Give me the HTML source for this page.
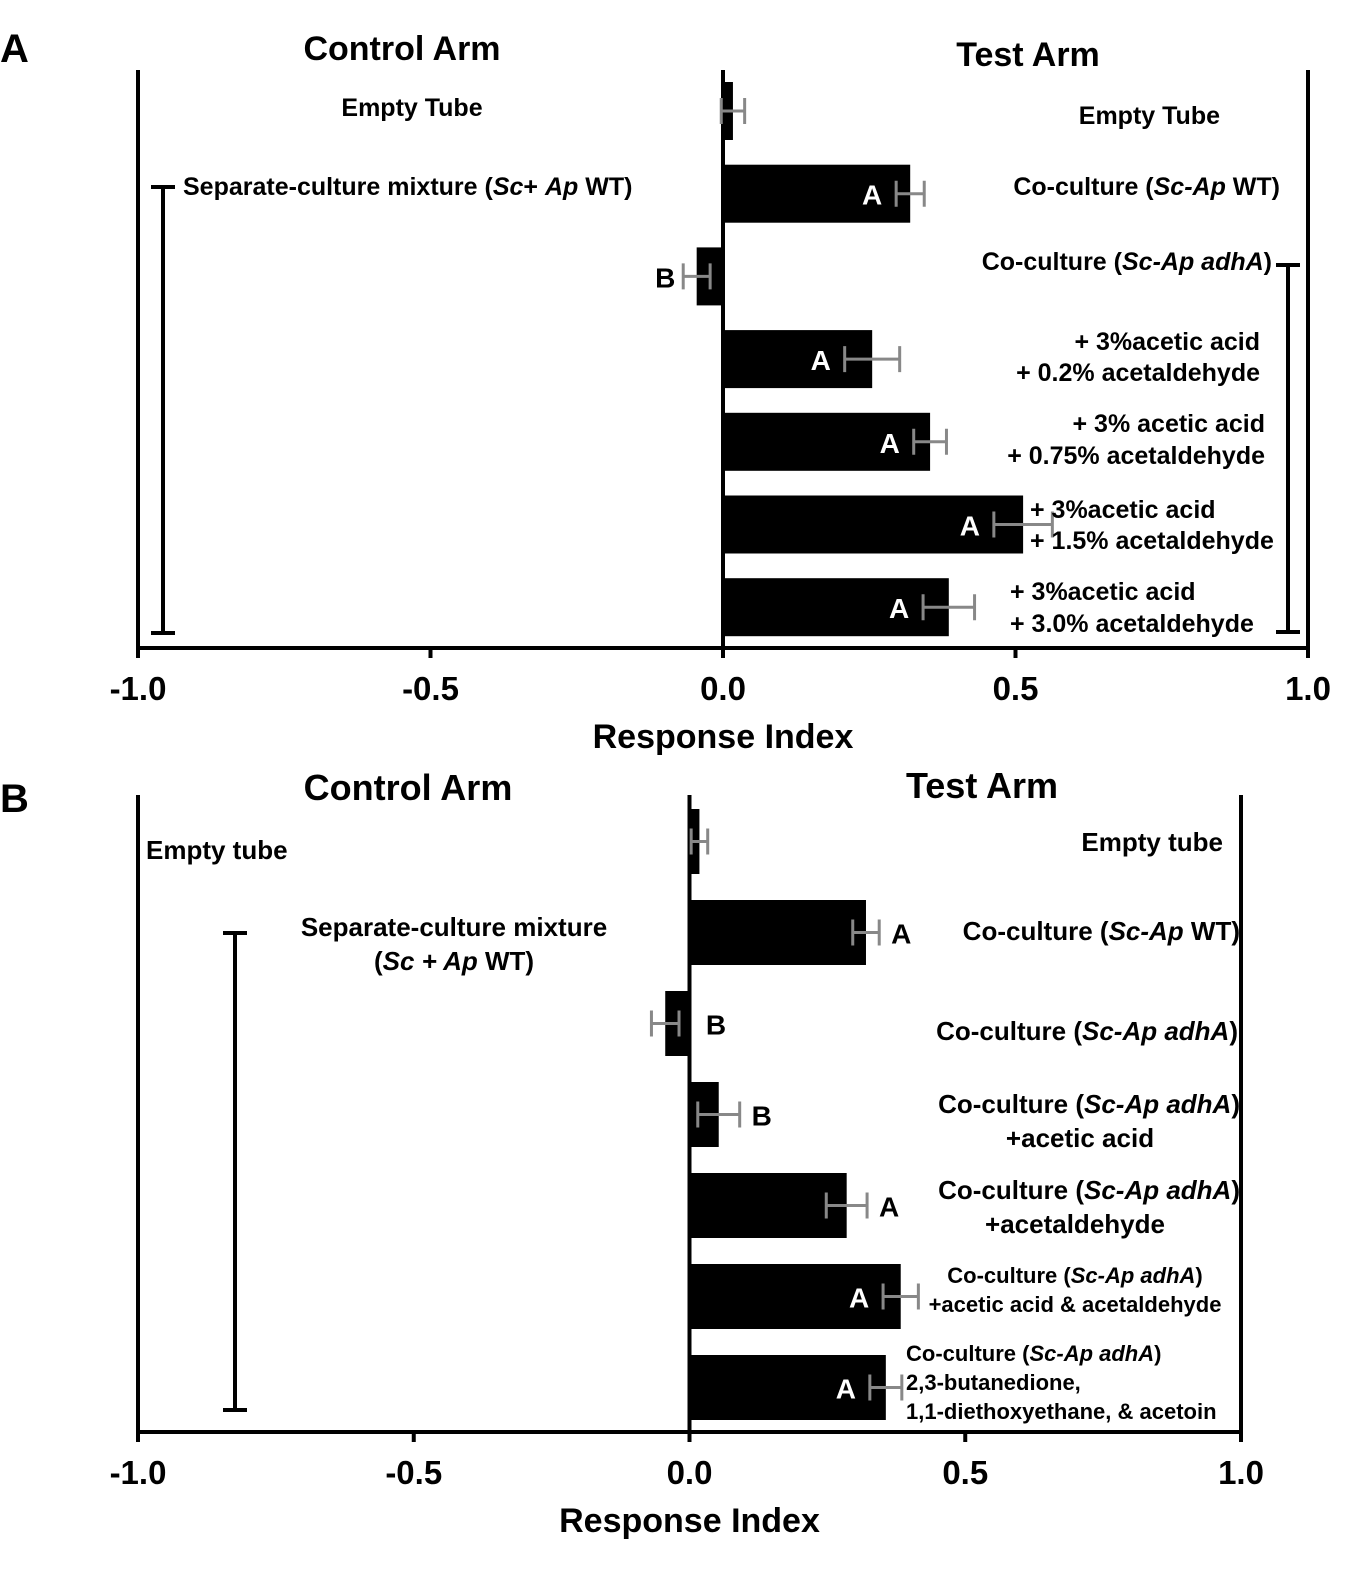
<!DOCTYPE html>
<html><head><meta charset="utf-8"><style>
body{margin:0;background:#fff}
svg{display:block;font-family:"Liberation Sans",Arial,sans-serif;font-weight:bold}
</style></head><body>
<svg id="s" width="1362" height="1578" viewBox="0 0 1362 1578">
<text x="0" y="62" font-size="40">A</text>
<text x="0" y="812" font-size="40">B</text>
<g id="ga"></g>
<g id="gb"></g>
</svg>
<script>
const aValues=[0.017,0.32,-0.045,0.255,0.354,0.513,0.386];
const aErr=[0.02,0.024,0.023,0.047,0.028,0.05,0.044];
const aLetters=["","A","B","A","A","A","A"];
const bValues=[0.018,0.32,-0.044,0.053,0.285,0.383,0.356];
const bErr=[0.015,0.024,0.025,0.038,0.037,0.032,0.029];
const bLetters=["","A","B","B","A","A","A"];
const ticks=[-1.0,-0.5,0.0,0.5,1.0];
const tickLabels=["-1.0","-0.5","0.0","0.5","1.0"];
const NS="http://www.w3.org/2000/svg";
function el(p,t,a,txt){const e=document.createElementNS(NS,t);for(const k in a)e.setAttribute(k,a[k]);if(txt!==undefined)e.innerHTML=txt;p.appendChild(e);return e;}
function panel(g,cfg,vals,errs,lets){
  const x=v=>cfg.x0+(v+1)/2*(cfg.x1-cfg.x0);
  const zero=x(0);
  let e;
  e=el(g,'line',{x1:x(-1),x2:x(1),y1:cfg.base,y2:cfg.base,stroke:'#000','stroke-width':4});
  
  [[x(-1),'left-axis-line'],[x(1),'right-axis-line'],[zero,'zero-line']].forEach(([xx,n])=>{
    e=el(g,'line',{x1:xx,x2:xx,y1:cfg.top,y2:cfg.base,stroke:'#000','stroke-width':4});
    
  });
  ticks.forEach((t,i)=>{
    e=el(g,'line',{x1:x(t),x2:x(t),y1:cfg.base,y2:cfg.base+10,stroke:'#000','stroke-width':4});
    
    e=el(g,'text',{x:x(t),y:cfg.base+52,'font-size':33,'text-anchor':'middle'},tickLabels[i]);
    
  });
  e=el(g,'text',{x:zero,y:cfg.base+100,'font-size':34,'text-anchor':'middle'},'Response Index');
  
  vals.forEach((v,i)=>{
    const yt=cfg.first+i*cfg.step;
    const x0=Math.min(zero,x(v)),w=Math.abs(x(v)-zero);
    e=el(g,'rect',{x:x0,y:yt,width:w,height:cfg.h,fill:'#000'});
    
    const yc=yt+cfg.h/2,xl=x(v-errs[i]),xr=x(v+errs[i]);
    e=el(g,'path',{d:`M${xl} ${yc}H${xr}M${xl} ${yc-13}V${yc+13}M${xr} ${yc-13}V${yc+13}`,stroke:'#888','stroke-width':3,fill:'none'});
    
    if(lets[i]){
      let lx,fill='#000';
      if(v<0){lx=cfg.negRight?x(0.048):xl-18;}
      else if(cfg.inside(i)){lx=xl-24;fill='#fff';}
      else{lx=xr+22;}
      e=el(g,'text',{x:lx,y:yc+11,'font-size':28,fill:fill,'text-anchor':'middle'},lets[i]);
      
    }
  });
}
const ga=document.getElementById('ga'),gb=document.getElementById('gb');
panel(ga,{x0:138,x1:1308,top:70,base:648,first:82,step:82.7,h:58,inside:i=>true},aValues,aErr,aLetters);
panel(gb,{x0:138,x1:1241,top:795,base:1432,first:809,step:91,h:65,inside:i=>i>=5,negRight:true},bValues,bErr,bLetters);
function t(g,x,y,s,txt,anchor,name){const e=el(g,'text',{x:x,y:y,'font-size':s,'text-anchor':anchor||'start'},txt);}
function br(g,x,y1,y2,name){const e=el(g,'path',{d:`M${x} ${y1}V${y2}M${x-12} ${y1}H${x+12}M${x-12} ${y2}H${x+12}`,stroke:'#000','stroke-width':4,fill:'none'});}
t(ga,402,60,34,'Control Arm','middle','control-arm-title');
t(ga,1028,66,34,'Test Arm','middle','test-arm-title');
t(ga,412,116,25,'Empty Tube','middle','control-empty-tube');
t(ga,183,195,25,'Separate-culture mixture (<tspan font-style="italic">Sc</tspan>+ <tspan font-style="italic">Ap</tspan> WT)','start','separate-culture-label');
br(ga,163,187,633,'control-bracket');
br(ga,1288,265,632,'test-bracket');
t(ga,1220,124,25,'Empty Tube','end','test-empty-tube');
t(ga,1280,195,25,'Co-culture (<tspan font-style="italic">Sc-Ap</tspan> WT)','end','coculture-wt');
t(ga,1272,270,25,'Co-culture (<tspan font-style="italic">Sc-Ap adhA</tspan>)','end','coculture-adha');
t(ga,1260,350,25,'+ 3%acetic acid','end','label-4a');
t(ga,1260,381,25,'+ 0.2% acetaldehyde','end','label-4b');
t(ga,1265,432,25,'+ 3% acetic acid','end','label-5a');
t(ga,1265,464,25,'+ 0.75% acetaldehyde','end','label-5b');
t(ga,1030,518,25,'+ 3%acetic acid','start','label-6a');
t(ga,1030,549,25,'+ 1.5% acetaldehyde','start','label-6b');
t(ga,1010,600,25,'+ 3%acetic acid','start','label-7a');
t(ga,1010,632,25,'+ 3.0% acetaldehyde','start','label-7b');
t(gb,408,800,36,'Control Arm','middle','control-arm-title-b');
t(gb,982,798,36,'Test Arm','middle','test-arm-title-b');
t(gb,146,859,26,'Empty tube','start','control-empty-tube-b');
t(gb,454,936,26,'Separate-culture mixture','middle','separate-culture-b1');
t(gb,454,970,26,'(<tspan font-style="italic">Sc + Ap</tspan> WT)','middle','separate-culture-b2');
br(gb,235,933,1410,'control-bracket-b');
t(gb,1223,851,26,'Empty tube','end','test-empty-tube-b');
t(gb,1240,940,26,'Co-culture (<tspan font-style="italic">Sc-Ap</tspan> WT)','end','b-coculture-wt');
t(gb,1238,1040,26,'Co-culture (<tspan font-style="italic">Sc-Ap adhA</tspan>)','end','b-coculture-adha');
t(gb,1240,1113,26,'Co-culture (<tspan font-style="italic">Sc-Ap adhA</tspan>)','end','b-label-4a');
t(gb,1080,1147,26,'+acetic acid','middle','b-label-4b');
t(gb,1240,1199,26,'Co-culture  (<tspan font-style="italic">Sc-Ap adhA</tspan>)','end','b-label-5a');
t(gb,1075,1233,26,'+acetaldehyde','middle','b-label-5b');
t(gb,1075,1283,22,'Co-culture (<tspan font-style="italic">Sc-Ap adhA</tspan>)','middle','b-label-6a');
t(gb,1075,1312,22,'+acetic acid &amp; acetaldehyde','middle','b-label-6b');
t(gb,906,1361,22,'Co-culture (<tspan font-style="italic">Sc-Ap adhA</tspan>)','start','b-label-7a');
t(gb,906,1390,22,'2,3-butanedione,','start','b-label-7b');
t(gb,906,1419,22,'1,1-diethoxyethane, &amp; acetoin','start','b-label-7c');
</script>
</body></html>
